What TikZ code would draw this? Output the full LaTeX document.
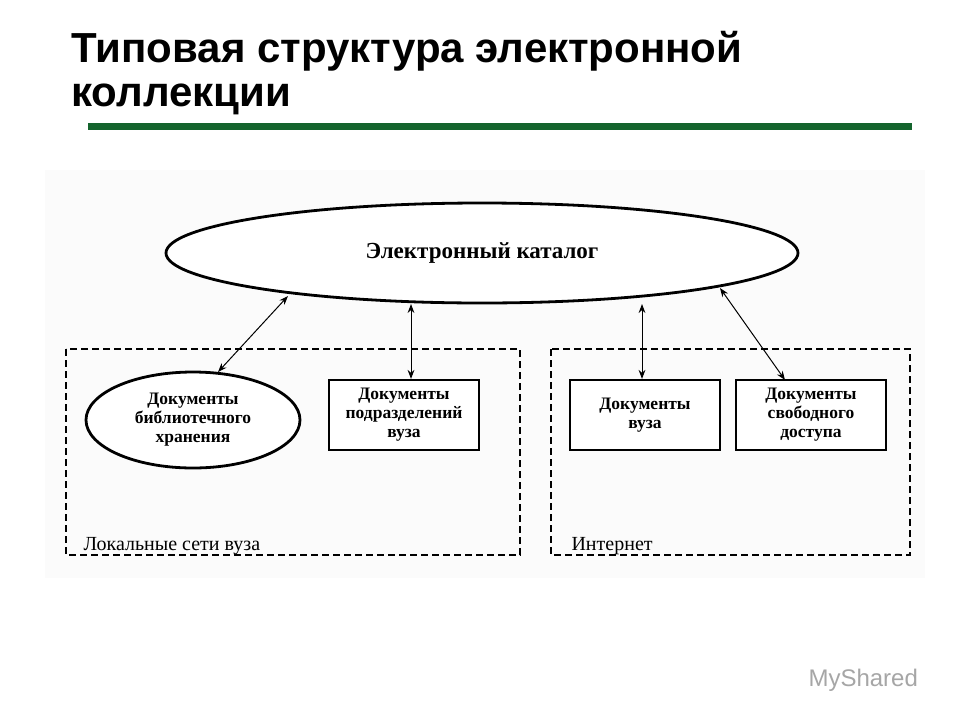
\documentclass[tikz,border=0pt]{standalone}
\usepackage{fontspec}
\setmainfont{Liberation Serif}
\newfontfamily\titlefont{Liberation Sans}
\usetikzlibrary{arrows.meta,shapes.geometric}
\definecolor{tgreen}{RGB}{20,100,45}
\begin{document}
\begin{tikzpicture}[x=1pt,y=-1pt,
  box/.style={draw,line width=2.2pt,minimum width=150pt,minimum height=70pt,inner sep=1pt,align=center,font=\bfseries\fontsize{17.5}{19}\selectfont},
  region/.style={draw,line width=2pt,dash pattern=on 7pt off 4pt},
  link/.style={{Stealth[length=9pt]}-{Stealth[length=9pt]},line width=1pt},
  lbl/.style={anchor=base west,font=\fontsize{20}{22}\selectfont}]
\useasboundingbox (0,0) rectangle (960,720);
\fill[white] (0,0) rectangle (960,720);
\fill[gray!3] (45,170) rectangle (925,578);
\node[anchor=base west,font=\titlefont\bfseries\fontsize{42}{44}\selectfont] (t1) at (68,62) {Типовая структура электронной};
\node[anchor=base west,font=\titlefont\bfseries\fontsize{42}{44}\selectfont] (t2) at (68,106) {коллекции};
\draw[tgreen,line width=7pt] (88,126) -- (912,126);
\node[draw,ellipse,inner sep=0pt,line width=2.8pt,minimum width=632pt,minimum height=100pt,font=\bfseries\fontsize{23}{26}\selectfont,fill=white] (cat) at (482,253) {Электронный каталог};
\draw[region] (66,349) rectangle (520,555);
\draw[region] (551,349) rectangle (910,555);
\node[lbl] (l1) at (80,550) {Локальные сети вуза};
\node[lbl] (l2) at (568,550) {Интернет};
\node[draw,ellipse,inner sep=0pt,line width=2.8pt,minimum width=214pt,minimum height=96pt,align=center,font=\bfseries\fontsize{17.5}{19}\selectfont,fill=white] (lib) at (193,420) {Документы\\библиотечного\\хранения};
\node[box,fill=white] (dep) at (404,415) {Документы\\подразделений\\вуза};
\node[box,fill=white] (vuz) at (645,415) {Документы\\вуза};
\node[box,fill=white] (free) at (811,415) {Документы\\свободного\\доступа};
\coordinate (c1) at (288,296);
\coordinate (c2) at (411,304);
\coordinate (c3) at (642,304);
\coordinate (c4) at (720,288);
\coordinate (e1) at (218,372);
\coordinate (e4) at (785,380);
\draw[link] (c1) -- (e1);
\draw[link] (c2) -- (dep.north -| c2);
\draw[link] (c3) -- (vuz.north -| c3);
\draw[link] (c4) -- (e4);
\node[anchor=base west,text=gray!70,font=\titlefont\fontsize{24}{28}\selectfont] (ms) at (805,686) {MyShared};
\end{tikzpicture}
\end{document}
